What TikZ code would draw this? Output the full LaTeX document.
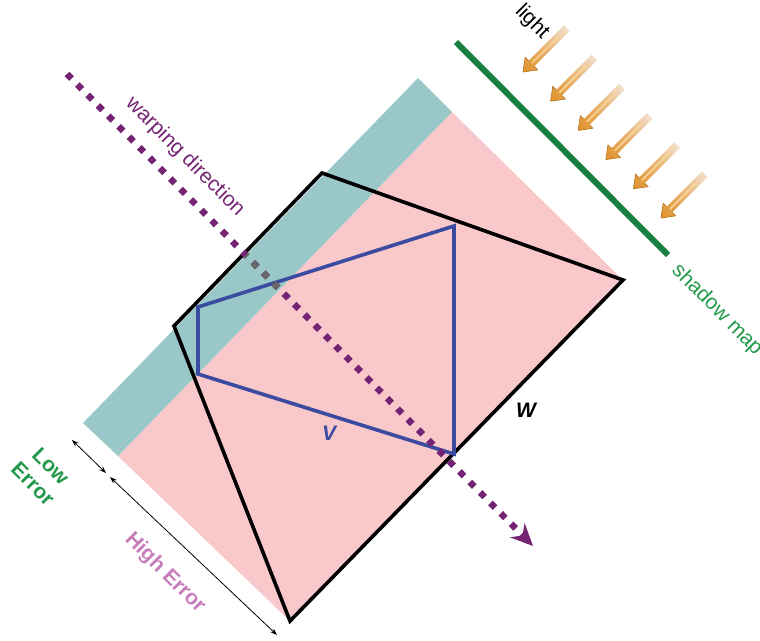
\documentclass[tikz,border=0pt]{standalone}
\usepackage{fontspec}
\setmainfont{Liberation Sans}
\usepackage{tikz}
\usetikzlibrary{arrows.meta,shadings}
\definecolor{errpink}{HTML}{F8C8CA}
\definecolor{errteal}{HTML}{9AC8C8}
\definecolor{warpcol}{HTML}{742473}
\definecolor{warpgray}{HTML}{686868}
\definecolor{vblue}{HTML}{3A4BA0}
\definecolor{mapgreen}{HTML}{178040}
\definecolor{txtgreen}{HTML}{22994A}
\definecolor{highpink}{HTML}{C77DBA}
\definecolor{lightorange}{HTML}{E0922A}
\definecolor{lightpale}{HTML}{F4E6DA}
\definecolor{lightglow}{HTML}{FAD79A}

\begin{document}
\begin{tikzpicture}[x=1pt, y=-1pt,
  lbl/.style={font=\fontsize{21}{25}\selectfont, inner sep=0pt},
  boldlbl/.style={font=\fontsize{21}{25}\selectfont\bfseries, inner sep=0pt},
  warp/.style={line width=6.5pt, dash pattern=on 6.5pt off 8.2pt},
  span/.style={{Stealth[length=7pt,width=5pt]}-{Stealth[length=7pt,width=5pt]}, line width=0.8pt},
  poly/.style={line width=3.6pt, line join=miter},
  smap/.style={mapgreen, line width=6pt}]
\useasboundingbox (0,0) rectangle (760,640);

\coordinate (p1) at (452,112);
\coordinate (p2) at (623,280);
\coordinate (p3) at (290,621);
\coordinate (p4) at (118,456);
\coordinate (t1) at (418,78);
\coordinate (t4) at (83,423);
\fill[errpink] (p1) -- (p2) -- (p3) -- (p4) -- cycle;
\fill[errteal] (t1) -- (p1) -- (p4) -- (t4) -- cycle;

\draw[poly] (322,173) -- (p2) -- (p3) -- (174,326) -- cycle;
\draw[poly, vblue] (198,307) -- (454,226) -- (454,454) -- (198,374) -- cycle;

\coordinate (ws) at (67,74);
\coordinate (we) at (533,546);
\draw[warp, warpcol, -{Stealth[length=22pt,width=20pt]}] (ws) -- (we);
\begin{scope}
  \clip (t1) -- (p1) -- (p4) -- (t4) -- cycle;
  \draw[warp, warpgray] (ws) -- (we);
\end{scope}

\coordinate (sm1) at (456,42);
\coordinate (sm2) at (668,255);
\draw[smap] (sm1) -- (sm2);

\foreach \i in {0,...,5}{
  \begin{scope}[shift={({523+27.6*\i},{72+29.2*\i})}]
    \shade[lower left=lightorange, upper right=lightpale,
           upper left=lightorange!65!lightpale, lower right=lightorange!65!lightpale]
      (0,0) -- (14.85,-2.12) -- (11.31,-5.66) -- (46.67,-41.01) -- (41.01,-46.67) -- (5.66,-11.31) -- (2.12,-14.85) -- cycle;
    \draw[lightglow, line width=1.4pt, line cap=round] (9,-9) -- (36,-36);
    \draw[lightorange!80!black, line width=0.6pt, line join=round] (11.31,-5.66) -- (14.85,-2.12) -- (0,0) -- (2.12,-14.85) -- (5.66,-11.31);
  \end{scope}
}

\coordinate (le1) at (72,440);
\coordinate (le2) at (106,473);
\coordinate (he1) at (110,477);
\coordinate (he2) at (277,635);
\draw[span] (le1) -- (le2);
\draw[span] (he1) -- (he2);

\node[lbl, rotate=-45, text=warpcol] (warplbl) at (185,157) {warping direction};
\node[lbl, rotate=-45, text=txtgreen] (maplbl) at (717,310) {shadow map};
\node[lbl, rotate=-45] (lightlbl) at (532,22) {light};
\node[boldlbl, rotate=-45, align=center, text=txtgreen] (lowlbl) at (42,475) {Low\\Error};
\node[boldlbl, rotate=-45, text=highpink] (highlbl) at (165,573) {High Error};
\node[boldlbl, font=\fontsize{21}{25}\selectfont\bfseries\itshape] (wlbl) at (526,410) {W};
\node[boldlbl, font=\fontsize{21}{25}\selectfont\bfseries\itshape, text=vblue] (vlbl) at (329,433) {V};
\end{tikzpicture}
\end{document}
